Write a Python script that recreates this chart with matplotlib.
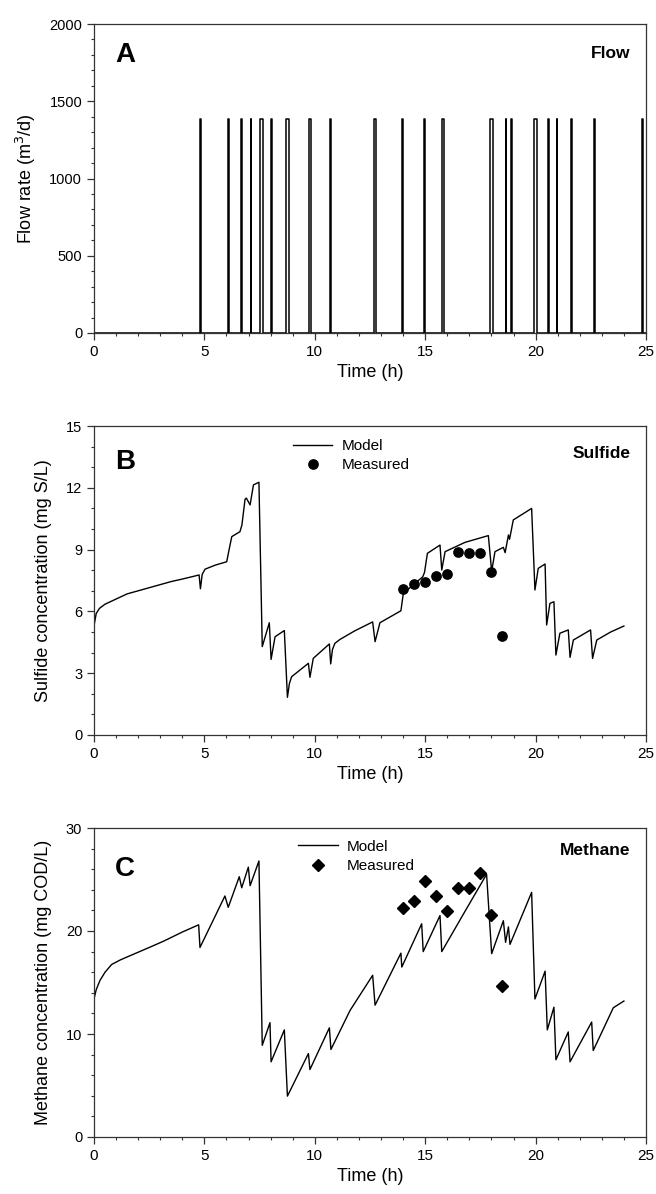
import numpy as np
import matplotlib
matplotlib.use("Agg")
import matplotlib.pyplot as plt
from matplotlib.ticker import MultipleLocator

plt.rcParams['font.family'] = ['Liberation Sans', 'DejaVu Sans']

# ---- data ----
# panel A: pump events (start time h, duration h), flow during pump on
pump_start = [4.79, 6.06, 6.67, 7.09, 7.53, 8.01, 8.70, 9.73, 10.70,
              12.68, 13.95, 14.93, 15.78, 17.94, 18.65, 18.90, 19.93,
              20.55, 20.95, 21.59, 22.64, 24.84]
pump_dur = [0.05, 0.05, 0.05, 0.03, 0.12, 0.04, 0.12, 0.10, 0.05,
            0.08, 0.05, 0.08, 0.06, 0.14, 0.03, 0.04, 0.14,
            0.05, 0.04, 0.05, 0.05, 0.04]
pump_flow = 1385

# panel B: sulfide model and measurements
sulf_t = [0, 0.1, 0.25, 0.5, 1.0, 1.5, 2.0, 2.5, 3.0, 3.5, 4.0, 4.5, 4.76,
          4.82, 4.9, 5.03, 5.5, 6.01, 6.10, 6.24, 6.61, 6.70, 6.84, 6.90, 7.07,
          7.22, 7.47, 7.62, 7.94, 8.02, 8.20, 8.62, 8.76, 8.85, 8.95, 9.71, 9.78,
          9.93, 10.66, 10.72, 10.80, 10.91, 11.14, 11.8, 12.62, 12.73, 12.95,
          13.90, 14.01, 14.89, 14.97, 15.10, 15.67, 15.75, 15.90, 16.80, 17.86,
          18.01, 18.16, 18.54, 18.62, 18.77, 18.82, 18.99, 19.82, 19.97, 20.12,
          20.43, 20.50, 20.65, 20.83, 20.92, 21.10, 21.48, 21.56, 21.71, 22.49,
          22.58, 22.77, 23.40, 24.0]
sulf_v = [5.3, 5.9, 6.15, 6.35, 6.6, 6.85, 7.0, 7.15, 7.3, 7.45, 7.57, 7.7, 7.77,
          7.1, 7.8, 8.05, 8.25, 8.41, 8.9, 9.63, 9.87, 10.2, 11.44, 11.5, 11.17,
          12.14, 12.27, 4.29, 5.45, 3.67, 4.77, 5.07, 1.83, 2.5, 2.83, 3.48, 2.8,
          3.72, 4.42, 3.45, 4.15, 4.45, 4.64, 5.05, 5.49, 4.53, 5.45,
          6.03, 6.88, 7.68, 7.9, 8.82, 9.22, 8.01, 8.9, 9.35, 9.68,
          7.95, 8.9, 9.11, 8.85, 9.71, 9.5, 10.44, 11.0, 7.04, 8.09,
          8.3, 5.34, 6.39, 6.47, 3.88, 4.94, 5.1, 3.77, 4.61, 5.1,
          3.72, 4.61, 5.0, 5.29]
sulf_meas_t = [14.0, 14.5, 15.0, 15.5, 16.0, 16.5, 17.0, 17.5, 18.0, 18.5]
sulf_meas_v = [7.1, 7.33, 7.45, 7.7, 7.8, 8.87, 8.82, 8.82, 7.9, 4.8]

# panel C: methane model and measurements
meth_t = [0, 0.1, 0.27, 0.5, 0.8, 1.2, 1.63, 2.5, 3.14, 4.0, 4.74,
          4.80, 5.93, 6.08, 6.58, 6.69, 6.99, 7.07, 7.47, 7.62, 7.97, 8.02,
          8.62, 8.76, 9.71, 9.78, 10.66, 10.73, 11.6, 12.62, 12.73, 13.90,
          13.94, 14.84, 14.91, 15.67, 15.75, 16.8, 17.78, 18.01, 18.54, 18.64,
          18.77, 18.84, 19.82, 19.97, 20.43, 20.53, 20.83, 20.92, 21.48, 21.56,
          22.54, 22.61, 23.52, 24.0]
meth_v = [13.4, 14.3, 15.2, 16.0, 16.75, 17.2, 17.6, 18.4, 19.0, 19.9, 20.6,
          18.4, 23.4, 22.3, 25.27, 24.2, 26.2, 24.4, 26.8, 8.9, 11.1, 7.3,
          10.4, 3.97, 8.1, 6.55, 10.6, 8.5, 12.3, 15.7, 12.8, 17.85,
          16.5, 20.7, 18.0, 21.5, 18.0, 21.9, 25.5, 17.8, 21.0, 18.9,
          20.4, 18.7, 23.75, 13.4, 16.1, 10.4, 12.6, 7.5, 10.2, 7.3,
          11.16, 8.4, 12.55, 13.2]
meth_meas_t = [14.0, 14.5, 15.0, 15.5, 16.0, 16.5, 17.0, 17.5, 18.0, 18.5]
meth_meas_v = [22.2, 22.9, 24.9, 23.4, 21.9, 24.2, 24.2, 25.6, 21.6, 14.7]

# build flow step series
flow_t = [0]
flow_q = [0]
for s, d in zip(pump_start, pump_dur):
    flow_t += [s, s, s + d, s + d]
    flow_q += [0, pump_flow, pump_flow, 0]
flow_t.append(25)
flow_q.append(0)

fig = plt.figure(figsize=(6.56, 11.94), dpi=100)
left, width, height = 94 / 656, 552 / 656, 309 / 1194
axA = fig.add_axes([left, (1194 - 333) / 1194, width, height])
axB = fig.add_axes([left, (1194 - 735) / 1194, width, height])
axC = fig.add_axes([left, (1194 - 1137) / 1194, width, height])

spine_c = '#333333'


def style(ax, ymax, ymaj, ymin):
    ax.set_xlim(0, 25)
    ax.set_ylim(0, ymax)
    ax.xaxis.set_major_locator(MultipleLocator(5))
    ax.xaxis.set_minor_locator(MultipleLocator(1))
    ax.yaxis.set_major_locator(MultipleLocator(ymaj))
    ax.yaxis.set_minor_locator(MultipleLocator(ymin))
    ax.tick_params(which='major', direction='out', length=5, width=0.9,
                   color=spine_c)
    ax.tick_params(which='minor', direction='out', length=2.5, width=0.8,
                   color=spine_c)
    ax.tick_params(axis='y', labelsize=10.5)
    ax.tick_params(axis='x', labelsize=11)
    for sp in ax.spines.values():
        sp.set_color(spine_c)
        sp.set_linewidth(0.9)
    ax.set_xlabel('Time (h)', fontsize=13, labelpad=4)


# ---- panel A ----
axA.plot(flow_t, flow_q, color='black', lw=1.1)
style(axA, 2000, 500, 100)
axA.set_ylabel('Flow rate (m$^3$/d)', fontsize=13, labelpad=8)
axA.text(0.038, 0.90, 'A', transform=axA.transAxes, fontsize=20,
         fontweight='bold', va='center', ha='left')
axA.text(0.972, 0.905, 'Flow', transform=axA.transAxes, fontsize=12.5,
         fontweight='bold', va='center', ha='right')

# ---- panel B ----
lB, = axB.plot(sulf_t, sulf_v, color='black', lw=1.0, label='Model')
mB, = axB.plot(sulf_meas_t, sulf_meas_v, 'o', color='black', ms=6.7,
               label='Measured')
style(axB, 15, 3, 1)
axB.set_ylabel('Sulfide concentration (mg S/L)', fontsize=13, labelpad=10)
axB.text(0.038, 0.885, 'B', transform=axB.transAxes, fontsize=20,
         fontweight='bold', va='center', ha='left')
axB.text(0.972, 0.912, 'Sulfide', transform=axB.transAxes, fontsize=12.5,
         fontweight='bold', va='center', ha='right')
axB.legend(handles=[lB, mB], loc='upper left', bbox_to_anchor=(0.36, 0.957),
           frameon=False, fontsize=11, handlelength=2.6, handletextpad=0.6,
           labelspacing=0.3, borderpad=0, borderaxespad=0)

# ---- panel C ----
lC, = axC.plot(meth_t, meth_v, color='black', lw=1.0, label='Model')
mC, = axC.plot(meth_meas_t, meth_meas_v, 'D', color='black', ms=6.2,
               label='Measured')
style(axC, 30, 10, 2)
axC.set_ylabel('Methane concentration (mg COD/L)', fontsize=13, labelpad=10)
axC.text(0.038, 0.868, 'C', transform=axC.transAxes, fontsize=20,
         fontweight='bold', va='center', ha='left')
axC.text(0.972, 0.926, 'Methane', transform=axC.transAxes, fontsize=12.5,
         fontweight='bold', va='center', ha='right')
axC.legend(handles=[lC, mC], loc='upper left', bbox_to_anchor=(0.37, 0.962),
           frameon=False, fontsize=11, handlelength=2.6, handletextpad=0.6,
           labelspacing=0.35, borderpad=0, borderaxespad=0)

fig.savefig('out.png', dpi=100)
